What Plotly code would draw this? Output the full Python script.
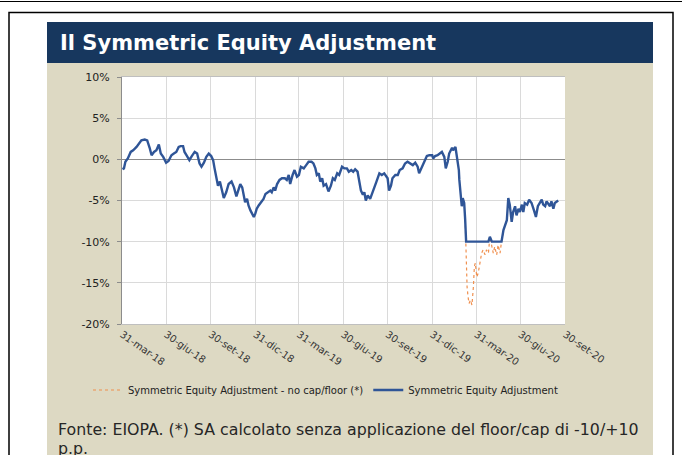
import plotly.graph_objects as go

# ---------------- data ----------------
sea_dates = [
    "2018-04-01", "2018-04-04", "2018-04-07", "2018-04-12", "2018-04-18", "2018-04-23", "2018-04-30",
    "2018-05-04", "2018-05-10", "2018-05-17", "2018-05-22", "2018-05-27", "2018-05-31",
    "2018-06-05", "2018-06-10", "2018-06-15", "2018-06-19", "2018-06-24", "2018-06-30",
    "2018-07-05", "2018-07-11", "2018-07-16", "2018-07-21", "2018-07-26", "2018-07-30",
    "2018-08-04", "2018-08-07", "2018-08-11", "2018-08-14", "2018-08-17", "2018-08-22", "2018-08-28",
    "2018-09-02", "2018-09-07", "2018-09-11", "2018-09-16", "2018-09-21", "2018-09-26",
    "2018-10-01", "2018-10-05", "2018-10-08", "2018-10-12", "2018-10-15", "2018-10-19", "2018-10-22", "2018-10-27",
    "2018-11-01", "2018-11-06", "2018-11-12", "2018-11-17", "2018-11-22", "2018-11-25", "2018-11-30",
    "2018-12-04", "2018-12-07", "2018-12-10", "2018-12-14", "2018-12-17", "2018-12-21", "2018-12-24", "2018-12-28", "2018-12-31",
    "2019-01-03", "2019-01-07", "2019-01-10", "2019-01-14", "2019-01-17", "2019-01-21", "2019-01-26", "2019-01-31",
    "2019-02-03", "2019-02-07", "2019-02-10", "2019-02-14", "2019-02-19", "2019-02-24",
    "2019-03-02", "2019-03-06", "2019-03-10", "2019-03-13", "2019-03-18", "2019-03-22", "2019-03-27", "2019-03-31",
    "2019-04-04", "2019-04-10", "2019-04-15", "2019-04-20", "2019-04-26", "2019-04-30",
    "2019-05-04", "2019-05-07", "2019-05-11", "2019-05-14", "2019-05-18", "2019-05-21", "2019-05-26", "2019-05-31",
    "2019-06-05", "2019-06-09", "2019-06-13", "2019-06-18", "2019-06-22", "2019-06-28",
    "2019-07-03", "2019-07-08", "2019-07-12", "2019-07-17", "2019-07-21", "2019-07-25", "2019-07-30",
    "2019-08-03", "2019-08-06", "2019-08-10", "2019-08-13", "2019-08-16", "2019-08-20", "2019-08-25", "2019-08-29",
    "2019-09-02", "2019-09-07", "2019-09-13", "2019-09-18", "2019-09-23", "2019-09-27", "2019-09-30",
    "2019-10-03", "2019-10-07", "2019-10-10", "2019-10-16", "2019-10-21", "2019-10-25", "2019-10-31",
    "2019-11-05", "2019-11-10", "2019-11-15", "2019-11-21", "2019-11-26",
    "2019-12-01", "2019-12-04", "2019-12-10", "2019-12-15", "2019-12-20", "2019-12-25", "2019-12-31",
    "2020-01-02", "2020-01-06", "2020-01-11", "2020-01-16", "2020-01-20", "2020-01-25", "2020-01-28",
    "2020-02-01", "2020-02-04", "2020-02-10", "2020-02-12", "2020-02-17", "2020-02-19", "2020-02-24", "2020-02-25", "2020-02-28",
    "2020-03-01", "2020-03-03", "2020-03-06", "2020-03-08", "2020-03-10",
    "2020-04-25", "2020-04-28", "2020-05-02", "2020-05-22", "2020-05-26", "2020-05-29",
    "2020-06-02", "2020-06-05", "2020-06-08", "2020-06-12", "2020-06-15", "2020-06-19", "2020-06-22", "2020-06-26", "2020-06-29",
    "2020-07-03", "2020-07-06", "2020-07-09", "2020-07-14", "2020-07-18", "2020-07-23", "2020-07-28",
    "2020-08-01", "2020-08-05", "2020-08-09", "2020-08-13", "2020-08-16", "2020-08-20", "2020-08-23", "2020-08-26", "2020-08-30",
    "2020-09-02", "2020-09-06", "2020-09-09", "2020-09-13", "2020-09-16",
]
sea_values = [
    -1.2, -1.1, -0.3, 0.1, 0.9, 1.1, 1.5,
    1.8, 2.3, 2.4, 2.3, 1.4, 0.5,
    0.9, 1.1, 1.8, 0.7, 0.3, -0.4,
    -0.2, 0.5, 0.7, 0.9, 1.5, 1.6,
    1.6, 0.9, 0.5, 0.1, -0.1, 0.4, 0.9,
    0.7, -0.5, -0.9, -0.4, 0.3, 0.7,
    0.4, -0.1, -1.1, -2.3, -3.2, -2.7, -3.4, -4.7,
    -4.0, -3.0, -2.7, -3.4, -4.5, -3.8, -3.0,
    -3.4, -4.6, -5.2, -4.8, -5.6, -6.2, -6.6, -7.0, -6.6,
    -6.0, -5.6, -5.4, -5.0, -4.8, -4.2, -4.0, -3.8,
    -4.0, -3.4, -3.8, -3.0, -2.5, -2.3,
    -2.3, -2.5, -1.9, -3.0, -1.9, -1.3, -2.1, -1.9,
    -0.9, -1.1, -0.7, -0.3, -0.3, -0.5,
    -1.1, -1.9, -1.7, -2.7, -2.3, -3.2, -3.0, -3.9,
    -3.2, -2.3, -2.5, -1.7, -1.9, -0.9,
    -1.1, -1.1, -1.5, -1.3, -1.5, -1.2, -1.5,
    -2.7, -3.8, -4.3, -4.0, -5.0, -4.4, -4.8, -4.2,
    -3.4, -2.7, -1.7, -1.9, -1.7, -2.1, -2.3,
    -3.8, -3.2, -2.3, -1.9, -1.9, -1.3, -1.1,
    -0.5, -0.3, -0.5, -0.7, -0.4,
    -0.9, -1.7, -0.9, -0.1, 0.4, 0.5, 0.5,
    0.1, 0.4, 0.5, 0.7, 0.9, 0.3, -1.1,
    -0.3, 0.7, 1.4, 1.1, 1.5, 0.7, -1.3, -2.5, -4.1,
    -5.7, -4.7, -5.3, -7.3, -10.0,
    -10.0, -9.4, -10.0, -10.0, -8.6, -8.0,
    -7.4, -4.7, -5.5, -7.6, -6.4, -5.7, -6.8, -6.0, -6.4,
    -5.5, -6.4, -5.3, -5.5, -4.9, -5.3, -6.2,
    -7.0, -5.7, -5.3, -4.9, -5.5, -5.7, -5.1, -5.3, -5.7,
    -5.1, -6.0, -5.3, -5.1, -5.0,
]

nocap_dates = [
    "2020-03-08", "2020-03-10", "2020-03-12", "2020-03-14", "2020-03-16", "2020-03-19", "2020-03-22",
    "2020-03-25", "2020-03-27", "2020-03-29", "2020-04-01", "2020-04-04", "2020-04-08", "2020-04-11",
    "2020-04-14", "2020-04-18", "2020-04-21", "2020-04-25", "2020-04-28", "2020-05-02", "2020-05-05",
    "2020-05-08", "2020-05-12", "2020-05-15", "2020-05-19", "2020-05-22", "2020-05-26",
]
nocap_values = [
    -7.3, -12.2, -15.5, -16.7, -17.5, -17.1, -17.7,
    -15.5, -13.0, -12.6, -14.3, -13.8, -12.2, -11.4,
    -11.0, -11.6, -11.0, -11.4, -9.4, -10.8, -11.4,
    -10.6, -11.6, -10.4, -11.4, -10.0, -8.6,
]

x_tick_dates = ["2018-03-31", "2018-06-30", "2018-09-30", "2018-12-31", "2019-03-31", "2019-06-30",
                "2019-09-30", "2019-12-31", "2020-03-31", "2020-06-30", "2020-09-30"]
x_tick_labels = ["31-mar-18", "30-giu-18", "30-set-18", "31-dic-18", "31-mar-19", "30-giu-19",
                 "30-set-19", "31-dic-19", "31-mar-20", "30-giu-20", "30-set-20"]
y_tick_values = [10, 5, 0, -5, -10, -15, -20]
y_tick_labels = ["10%", "5%", "0%", "-5%", "-10%", "-15%", "-20%"]

series_names = ["Symmetric Equity Adjustment - no cap/floor (*)", "Symmetric Equity Adjustment"]
title_text = "Il Symmetric Equity Adjustment"
note_lines = ["Fonte: EIOPA. (*) SA calcolato senza applicazione del floor/cap di -10/+10", "p.p."]

# ---------------- layout geometry ----------------
W, H = 682, 455
PL, PR, PT, PB = 122, 565, 77, 324


def fx(px):
    return (px - PL) / (PR - PL)


def fy(py):
    return (PB - py) / (PB - PT)


NAVY = "#17375E"
BEIGE = "#DDD9C3"
BLUE = "#2F5597"
ORANGE = "#F0904F"

fig = go.Figure()
fig.add_trace(go.Scatter(
    x=nocap_dates, y=nocap_values, mode="lines", name=series_names[0],
    line=dict(color=ORANGE, width=1.2, dash="dot"),
))
fig.add_trace(go.Scatter(
    x=sea_dates, y=sea_values, mode="lines", name=series_names[1],
    line=dict(color=BLUE, width=2.4),
))

shapes = [
    dict(type="line", xref="paper", yref="paper", x0=fx(0), x1=fx(W), y0=fy(1.5), y1=fy(1.5),
         line=dict(color="black", width=1), layer="below"),
    dict(type="rect", xref="paper", yref="paper", x0=fx(47), x1=fx(653), y0=fy(63), y1=fy(460),
         fillcolor=BEIGE, line=dict(width=0), layer="below"),
    dict(type="rect", xref="paper", yref="paper", x0=fx(47), x1=fx(653), y0=fy(22), y1=fy(63),
         fillcolor=NAVY, line=dict(width=0), layer="below"),
    dict(type="rect", xref="paper", yref="paper", x0=0, x1=1, y0=0, y1=1,
         fillcolor="white", line=dict(width=0), layer="below"),
    dict(type="rect", xref="paper", yref="paper", x0=fx(9), x1=fx(673), y0=fy(12.5), y1=fy(470),
         fillcolor="rgba(0,0,0,0)", line=dict(color="black", width=1.5), layer="below"),
]

annotations = [
    dict(xref="paper", yref="paper", x=fx(58), y=fy(43), xanchor="left", yanchor="middle",
         text="<b>" + title_text + "</b>", showarrow=False,
         font=dict(family="DejaVu Sans", size=21, color="white")),
    dict(xref="paper", yref="paper", x=fx(57), y=fy(440), xanchor="left", yanchor="bottom",
         text=note_lines[0], showarrow=False, borderpad=0,
         font=dict(family="DejaVu Sans", size=15.8, color="#262626")),
    dict(xref="paper", yref="paper", x=fx(57), y=fy(438), xanchor="left", yanchor="top",
         text=note_lines[1], showarrow=False, borderpad=0,
         font=dict(family="DejaVu Sans", size=15.8, color="#262626")),
]

fig.update_layout(
    width=W, height=H,
    margin=dict(l=PL, r=W - PR, t=PT, b=H - PB, pad=0, autoexpand=False),
    paper_bgcolor="white", plot_bgcolor="white",
    showlegend=True,
    legend=dict(orientation="h", x=fx(88), xanchor="left",
                y=fy(390), yanchor="middle",
                font=dict(family="DejaVu Sans", size=10, color="#222222"),
                bgcolor="rgba(0,0,0,0)", itemwidth=30, tracegroupgap=0),
    shapes=shapes, annotations=annotations,
    xaxis=dict(
        type="date", range=["2018-03-31", "2020-09-30"],
        tickmode="array", tickvals=x_tick_dates, ticktext=x_tick_labels, tickangle=35,
        tickfont=dict(family="DejaVu Sans", size=10, color="#333333"),
        showgrid=True, gridcolor="#DADADA", gridwidth=1,
        showline=True, linecolor="#BFBFBF", linewidth=1, mirror=True,
        zeroline=False, ticks="",
    ),
    yaxis=dict(
        range=[-20, 10], tickmode="array", tickvals=y_tick_values, ticktext=y_tick_labels,
        tickfont=dict(family="DejaVu Sans", size=11, color="#222222"),
        showgrid=True, gridcolor="#DADADA", gridwidth=1,
        zeroline=True, zerolinecolor="#8C8C8C", zerolinewidth=1,
        showline=True, linecolor="#8C8C8C", linewidth=1,
        ticks="outside", ticklen=4, tickcolor="#8C8C8C", ticklabelstandoff=5,
    ),
)

fig.write_html("out.html", config={"displayModeBar": False},
               post_script="document.body.style.margin='0';document.body.style.overflow='hidden';")
